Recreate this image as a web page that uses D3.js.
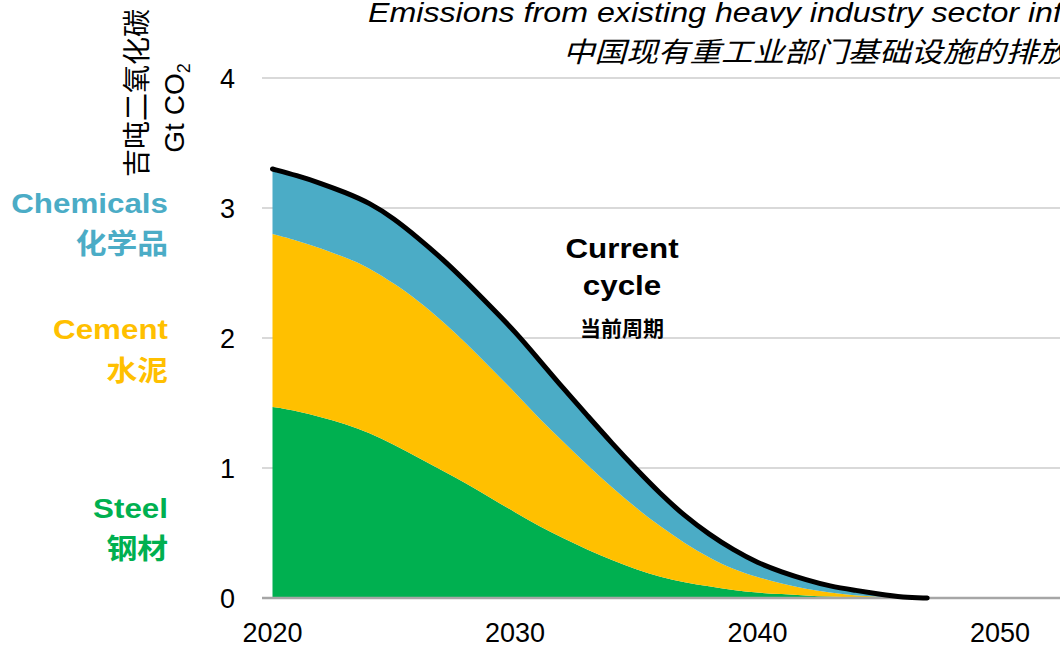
<!DOCTYPE html>
<html>
<head>
<meta charset="utf-8">
<script src="https://cdn.jsdelivr.net/npm/d3@7"></script>
<style>
  html, body { margin: 0; padding: 0; background: #ffffff; }
  svg { display: block; }
  text { font-family: "Liberation Sans", Arial, "Noto Sans CJK SC", sans-serif; }
  .cjk { font-family: "Noto Sans CJK SC", "Liberation Sans", sans-serif; }
</style>
</head>
<body>
<svg id="chart" width="1060" height="647"></svg>
<script>
// Existing heavy-industry infrastructure emissions, Gt CO2 per year
const years = [2020, 2021, 2022, 2023, 2024, 2025, 2026, 2027, 2028, 2029,
               2030, 2031, 2032, 2033, 2034, 2035, 2036, 2037, 2038, 2039,
               2040, 2041, 2042, 2043, 2044, 2045, 2046, 2047];
const steel = [1.47, 1.44, 1.39, 1.34, 1.27, 1.18, 1.08, 0.98, 0.88, 0.77,
               0.66, 0.55, 0.46, 0.37, 0.29, 0.22, 0.16, 0.12, 0.09, 0.06,
               0.04, 0.03, 0.02, 0.01, 0.005, 0, 0, 0];
const cement = [1.33, 1.31, 1.30, 1.28, 1.27, 1.24, 1.21, 1.15, 1.08, 1.00,
                0.92, 0.83, 0.74, 0.65, 0.56, 0.47, 0.39, 0.30, 0.22, 0.16,
                0.12, 0.08, 0.05, 0.03, 0.015, 0.01, 0, 0];
const chemicals = [0.50, 0.50, 0.50, 0.50, 0.50, 0.50, 0.48, 0.48, 0.47, 0.47,
                   0.47, 0.45, 0.41, 0.38, 0.34, 0.30, 0.25, 0.21, 0.18, 0.15,
                   0.11, 0.09, 0.07, 0.05, 0.04, 0.02, 0.005, 0];

const seriesKeys = ["steel", "cement", "chemicals"];
const seriesNamesEn = ["Steel", "Cement", "Chemicals"];
const seriesNamesZh = ["钢材", "水泥", "化学品"];
const xTicks = [2020, 2030, 2040, 2050];
const yTicks = [0, 1, 2, 3, 4];
const titleLines = ["Emissions from existing heavy industry sector infrastructure in China",
                    "中国现有重工业部门基础设施的排放"];
const yTitle = ["吉吨二氧化碳", "Gt CO", "2"];
const annotation = ["Current", "cycle", "当前周期"];

// styling and layout
const seriesColors = { steel: "#00B050", cement: "#FFC000", chemicals: "#4BACC6" };
const labelPos = { steel: [518, 547], cement: [339, 369], chemicals: [213, 242] }; // [english baseline, chinese centre]
const W = 1060, H = 647;
const svg = d3.select("#chart");
svg.append("rect").attr("width", W).attr("height", H).attr("fill", "#ffffff");

// text drawn with a slight horizontal stretch
function wideText(parent, x, y, sx) {
  return parent.append("g")
    .attr("transform", `translate(${x},${y}) scale(${sx},1)`)
    .append("text");
}

const x = d3.scaleLinear().domain([2020, 2050]).range([272.5, 1000]);
const y = d3.scaleLinear().domain([0, 4]).range([598, 78]);

const rows = years.map((yr, i) => ({ year: yr, steel: steel[i], cement: cement[i], chemicals: chemicals[i] }));

// horizontal gridlines
const gridLeft = 262;
svg.append("g").selectAll("line")
  .data(yTicks.filter(t => t > 0))
  .join("line")
  .attr("x1", gridLeft).attr("x2", W)
  .attr("y1", d => y(d)).attr("y2", d => y(d))
  .attr("stroke", "#d9d9d9").attr("stroke-width", 2);

// stacked areas
const smooth = d3.curveBasis;
const layers = d3.stack().keys(seriesKeys)(rows);
const area = d3.area()
  .curve(smooth)
  .x(d => x(d.data.year))
  .y0(d => y(d[0]))
  .y1(d => y(d[1]));
svg.append("g").selectAll("path")
  .data(layers)
  .join("path")
  .attr("d", area)
  .attr("fill", d => seriesColors[d.key]);

// baseline
svg.append("line")
  .attr("x1", gridLeft).attr("x2", W)
  .attr("y1", y(0)).attr("y2", y(0))
  .attr("stroke", "#a6a6a6").attr("stroke-width", 2.5);

// total line
const line = d3.line()
  .curve(smooth)
  .x(d => x(d.year))
  .y(d => y(d.steel + d.cement + d.chemicals));
svg.append("path")
  .datum(rows)
  .attr("d", line)
  .attr("fill", "none")
  .attr("stroke", "#000000")
  .attr("stroke-width", 5)
  .attr("stroke-linecap", "round")
  .attr("stroke-linejoin", "round");

// y tick labels
svg.append("g").selectAll("text")
  .data(yTicks)
  .join("text")
  .attr("x", 235)
  .attr("y", d => y(d))
  .attr("dy", "0.36em")
  .attr("text-anchor", "end")
  .attr("font-size", 27)
  .attr("fill", "#000")
  .text(d => d);

// x tick labels
svg.append("g").selectAll("text")
  .data(xTicks)
  .join("text")
  .attr("x", d => x(d))
  .attr("y", 642)
  .attr("text-anchor", "middle")
  .attr("font-size", 27)
  .attr("fill", "#000")
  .text(d => d);

// y axis title (rotated, two lines)
svg.append("text")
  .attr("class", "cjk")
  .attr("transform", "translate(147,93) rotate(-90)")
  .attr("text-anchor", "middle")
  .attr("font-size", 28)
  .attr("fill", "#000")
  .text(yTitle[0]);
const gt = svg.append("text")
  .attr("transform", "translate(184,108) rotate(-90)")
  .attr("text-anchor", "middle")
  .attr("font-size", 28)
  .attr("fill", "#000");
gt.append("tspan").text(yTitle[1]);
gt.append("tspan").attr("font-size", 18).attr("dy", 6).text(yTitle[2]);

// series labels on the left
const labelG = svg.append("g");
seriesKeys.forEach((k, i) => {
  wideText(labelG, 168, labelPos[k][0], 1.12)
    .attr("text-anchor", "end")
    .attr("font-size", 28)
    .attr("font-weight", "bold")
    .attr("fill", seriesColors[k])
    .text(seriesNamesEn[i]);
  wideText(labelG, 168, labelPos[k][1], 1.1)
    .attr("class", "cjk")
    .attr("dominant-baseline", "central")
    .attr("text-anchor", "end")
    .attr("font-size", 28)
    .attr("font-weight", "bold")
    .attr("fill", seriesColors[k])
    .text(seriesNamesZh[i]);
});

// annotation
const ann = svg.append("g").attr("fill", "#000").attr("font-weight", "bold");
wideText(ann, 622, 258, 1.12).attr("text-anchor", "middle")
  .attr("font-size", 28).text(annotation[0]);
wideText(ann, 622, 295, 1.12).attr("text-anchor", "middle")
  .attr("font-size", 28).text(annotation[1]);
ann.append("text").attr("class", "cjk").attr("x", 622).attr("y", 327)
  .attr("dominant-baseline", "central").attr("text-anchor", "middle")
  .attr("font-size", 21).text(annotation[2]);

// title (italic, runs past the right edge)
wideText(svg, 368, 22, 1.15)
  .attr("font-size", 28).attr("font-style", "italic")
  .attr("fill", "#000")
  .text(titleLines[0]);
wideText(svg, 563, 50, 1.13)
  .attr("class", "cjk")
  .attr("dominant-baseline", "central")
  .attr("font-size", 28).attr("font-style", "italic")
  .attr("fill", "#000")
  .text(titleLines[1]);
</script>
</body>
</html>
